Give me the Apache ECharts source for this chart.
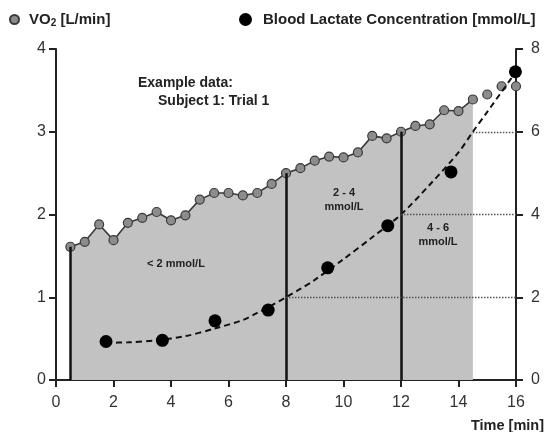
<!DOCTYPE html>
<html>
<head>
<meta charset="utf-8">
<script src="https://cdn.jsdelivr.net/npm/echarts@6/dist/echarts.min.js"></script>
<style>html,body{margin:0;padding:0;background:#fff;}#c{width:548px;height:432px;}</style>
</head>
<body>
<div id="c"></div>
<script>
// VO2 samples every 30 s [min, L/min]
const vo2Times = [0.5,1,1.5,2,2.5,3,3.5,4,4.5,5,5.5,6,6.5,7,7.5,8,8.5,9,9.5,10,10.5,11,11.5,12,12.5,13,13.5,14,14.5,15,15.5,16];
const vo2Values = [1.61,1.67,1.88,1.69,1.90,1.96,2.03,1.93,1.99,2.18,2.26,2.26,2.23,2.26,2.37,2.50,2.56,2.65,2.70,2.69,2.75,2.95,2.92,3.00,3.07,3.09,3.26,3.25,3.39,3.45,3.55,3.55];
// blood lactate samples [min, mmol/L]
const lacTimes = [1.74,3.70,5.53,7.38,9.45,11.54,13.74,15.98];
const lacValues = [0.93,0.96,1.43,1.69,2.71,3.73,5.03,7.45];
// fitted lactate curve
const fitTimes = [1.74,2.5,3.5,4.5,5.5,6.5,7,7.5,8,8.5,9,10,11,12,13,14,14.5,15,16];
const fitValues = [0.90,0.91,0.96,1.06,1.24,1.45,1.62,1.80,2.00,2.20,2.42,2.92,3.45,4.00,4.72,5.50,6.00,6.48,7.45];
// shaded region end, zone boundaries, lactate thresholds
const areaEnd = 14.5;
const zoneBoundaries = [0.5, 8, 12];
const thresholdTimes = [8, 12, 14.5];
const thresholdLactate = [2, 4, 6];

const FONT = 'Liberation Sans, Arial, sans-serif';
const vo2Line = [], vo2Extra = [];
vo2Times.forEach((t,i)=>{ (t <= areaEnd ? vo2Line : vo2Extra).push([t, vo2Values[i]]); });
const vo2At = t => vo2Values[vo2Times.indexOf(t)];

const chart = echarts.init(document.getElementById('c'));
const axisCommon = {
  axisLine:{show:true,lineStyle:{color:'#222',width:2}},
  axisTick:{show:true,length:7,inside:false,lineStyle:{color:'#222',width:2}},
  splitLine:{show:false},
  axisLabel:{color:'#333',fontSize:16,fontFamily:FONT}
};
chart.setOption({
  animation:false,
  grid:{left:56,right:32,top:49,bottom:52,containLabel:false,outerBoundsMode:'none'},
  legend:[
    {left:4,top:7,itemWidth:9,itemHeight:9,data:['VO2'],icon:'circle',
     formatter:()=> '{b|VO}{s|2}{b| [L/min]}',
     textStyle:{padding:[0,0,0,5],rich:{
       b:{fontFamily:FONT,fontWeight:'bold',fontSize:15,color:'#222',lineHeight:18},
       s:{fontFamily:FONT,fontWeight:'bold',fontSize:10,color:'#222',lineHeight:10,verticalAlign:'bottom'}}}},
    {left:234,top:7,itemWidth:13,itemHeight:13,data:['Blood Lactate Concentration [mmol/L]'],icon:'circle',
     textStyle:{fontFamily:FONT,fontWeight:'bold',fontSize:15,color:'#222',padding:[0,0,0,6]}}
  ],
  xAxis:Object.assign({},axisCommon,{type:'value',min:0,max:16,interval:2,
    axisLabel:Object.assign({},axisCommon.axisLabel,{margin:15}),
    name:'Time [min]',nameLocation:'end',nameGap:28,
    nameTextStyle:{fontFamily:FONT,fontWeight:'bold',fontSize:14.5,color:'#222',align:'right',verticalAlign:'top',padding:[38,0,0,0]}}),
  yAxis:[
    Object.assign({},axisCommon,{type:'value',min:0,max:4,interval:1,position:'left',
      axisLabel:Object.assign({},axisCommon.axisLabel,{margin:10})}),
    Object.assign({},axisCommon,{type:'value',min:0,max:8,interval:2,position:'right',
      axisLabel:Object.assign({},axisCommon.axisLabel,{margin:15})})
  ],
  graphic:[
    {type:'text',z:100,left:138,top:76,style:{text:'Example data:',font:'bold 14px '+FONT,fill:'#222'}},
    {type:'text',z:100,left:158,top:94,style:{text:'Subject 1: Trial 1',font:'bold 14px '+FONT,fill:'#222'}},
    {type:'text',z:100,x:176,y:258,style:{text:'< 2 mmol/L',font:'bold 11px '+FONT,fill:'#222',align:'center'}},
    {type:'text',z:100,x:344,y:186,style:{text:'2 - 4\nmmol/L',font:'bold 11px '+FONT,fill:'#222',align:'center',lineHeight:14}},
    {type:'text',z:100,x:438,y:221,style:{text:'4 - 6\nmmol/L',font:'bold 11px '+FONT,fill:'#222',align:'center',lineHeight:14}}
  ],
  series:[
    {name:'VO2',type:'line',yAxisIndex:0,data:vo2Line,symbol:'circle',symbolSize:9,z:3,
     lineStyle:{color:'#3a3a3a',width:1.6},
     itemStyle:{color:'#8c8c8c',borderColor:'#3a3a3a',borderWidth:1.2},
     areaStyle:{color:'#c2c2c2',opacity:1,origin:'start'},
     markLine:{silent:true,symbol:'none',label:{show:false},
       lineStyle:{color:'#111',width:2.5,type:'solid',opacity:1},
       data:zoneBoundaries.map(t=>[{coord:[t,0]},{coord:[t,vo2At(t)]}])}},
    {name:'VO2',type:'scatter',yAxisIndex:0,data:vo2Extra,symbol:'circle',symbolSize:9,z:3,
     itemStyle:{color:'#8c8c8c',borderColor:'#3a3a3a',borderWidth:1.2,opacity:1}},
    {name:'fit',type:'line',yAxisIndex:1,data:fitTimes.map((t,i)=>[t,fitValues[i]]),smooth:0.3,
     symbol:'none',z:4,lineStyle:{color:'#111',width:2,type:[6,4]}},
    {name:'Blood Lactate Concentration [mmol/L]',type:'scatter',yAxisIndex:1,z:5,
     data:lacTimes.map((t,i)=>[t,lacValues[i]]),symbol:'circle',symbolSize:13,
     itemStyle:{color:'#000',opacity:1},
     markLine:{silent:true,symbol:'none',label:{show:false},
       lineStyle:{color:'#555',width:1.3,type:[1.5,1.5]},
       data:thresholdTimes.map((t,i)=>[{coord:[t,thresholdLactate[i]]},{coord:[16,thresholdLactate[i]]}])}}
  ]
});
</script>
</body>
</html>
